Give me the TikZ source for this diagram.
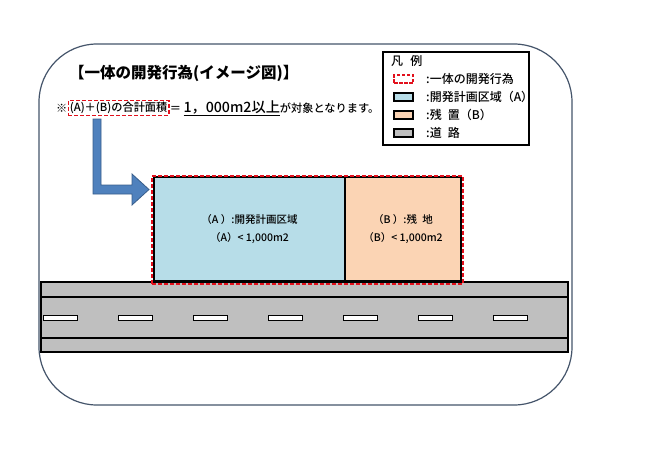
\documentclass[tikz,border=0pt]{standalone}
\usepackage{fontspec}
\setmainfont{Noto Sans CJK JP}
\newfontfamily\heavyjp{Noto Sans CJK JP Medium}
\usepackage{tikz}
\usetikzlibrary{positioning}
\definecolor{devred}{RGB}{226,16,28}
\definecolor{areablue}{RGB}{183,221,232}
\definecolor{areapeach}{RGB}{251,212,180}
\definecolor{roadgray}{RGB}{191,191,191}
\definecolor{arrowblue}{RGB}{79,129,189}
\definecolor{arrowedge}{RGB}{56,93,138}
\definecolor{frameblue}{RGB}{68,84,106}
\tikzstyle{zone}  = [
    draw,
    line width=1.1pt,
    inner sep=0pt,
    align=center,
    font=\heavyjp\fontsize{10.5}{18}\selectfont
]
\tikzstyle{bound} = [
    draw=devred,
    line width=1.7pt,
    dash pattern=on 4pt off 2pt
]
\tikzstyle{lane}  = [
    draw,
    fill=roadgray,
    line width=1.2pt,
    inner sep=0pt,
    minimum width=527pt
]
\tikzstyle{lanemark} = [
    draw,
    fill=white,
    line width=1pt,
    inner sep=0pt,
    minimum width=34pt,
    minimum height=5pt
]
\tikzstyle{swatch} = [
    draw,
    line width=1.1pt,
    inner sep=0pt,
    minimum width=19pt,
    minimum height=8pt
]
\tikzstyle{lgtext} = [
    anchor=west,
    inner sep=0pt,
    font=\heavyjp\fontsize{12}{13}\selectfont
]

\begin{document}
\begin{tikzpicture}[x=1pt, y=-1pt]
\useasboundingbox (0,0) rectangle (650,459);
\draw[frameblue, line width=1.2pt, rounded corners=58pt] (39,44) rectangle (572,405);

\node[anchor=west, inner sep=0pt, font=\fontsize{15.5}{17}\selectfont\bfseries] (title) at (69,73) {【一体の開発行為(イメージ図)】};

\node[anchor=west, inner sep=0pt, font=\heavyjp\fontsize{11.2}{13}\selectfont] (note1) at (56,108) {※};
\node[bound, line width=1.4pt, inner sep=1.5pt, right=0pt of note1, font=\heavyjp\fontsize{11.2}{13}\selectfont] (note2) {(A)＋(B)の合計面積};
\node[inner sep=0pt, right=0pt of note2, font=\heavyjp\fontsize{11.2}{13}\selectfont] (note3) {＝ {\fontsize{14.2}{15}\selectfont\underline{1，000m2以上}}が対象となります。};

% legend
\node[draw, line width=1.1pt, minimum width=146pt, minimum height=93pt, inner sep=0pt] (legend) at (456,98.5) {};
\node[lgtext] (lg0) at (391,61) {凡\hspace{0.6em}例};
\node[swatch, draw=devred, dash pattern=on 3.5pt off 1.5pt, line width=1.7pt] (sw1) at (403.5,79) {};
\node[swatch, fill=areablue] (sw2) at (403.5,97) {};
\node[swatch, fill=areapeach] (sw3) at (403.5,115) {};
\node[swatch, fill=roadgray] (sw4) at (403.5,133) {};
\node[lgtext] (lg1) at (426,79) {:一体の開発行為};
\node[lgtext] (lg2) at (426,97) {:開発計画区域（A）};
\node[lgtext] (lg3) at (426,115) {:残\hspace{0.5em}置（B）};
\node[lgtext] (lg4) at (426,133) {:道\hspace{0.5em}路};

% road
\node[lane, minimum height=15pt] (walkN) at (304.5,289.5) {};
\node[lane, minimum height=41pt] (carway) at (304.5,317.5) {};
\node[lane, minimum height=14pt] (walkS) at (304.5,345) {};
\foreach \i in {0,...,6}
    \node[lanemark] (m\i) at (60+75*\i,318) {};

% areas
\node[zone, fill=areablue, minimum width=191pt, minimum height=104pt] (areaA) at (249.5,229) {（A ）:開発計画区域\\（A）< 1,000m2};
\node[zone, fill=areapeach, minimum width=116pt, minimum height=104pt] (areaB) at (403,229) {（B ）:残\hspace{0.5em}地\\（B）< 1,000m2};
\node[bound, minimum width=311pt, minimum height=108pt] (dev) at (307.5,230) {};

% arrow
\draw[fill=arrowblue, draw=arrowedge, line width=0.8pt] (93,119) -- (101,119) -- (101,185) -- (132,185) -- (132,174)
    -- (149,189.5) -- (132,205) -- (132,194) -- (93,194) -- cycle;

\end{tikzpicture}
\end{document}
